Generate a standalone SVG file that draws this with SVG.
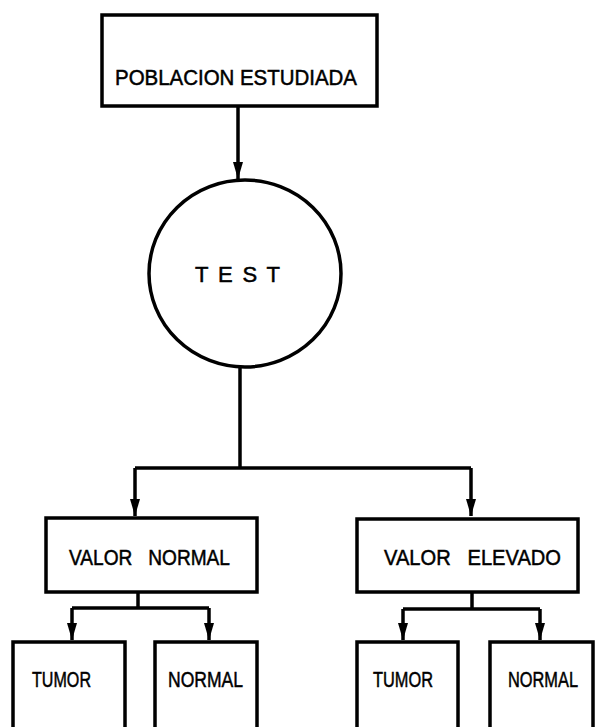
<svg xmlns="http://www.w3.org/2000/svg" width="596" height="727" viewBox="0 0 596 727">
<style>
.box{fill:#fff;stroke:#000;stroke-width:3.5}
.lbl{font-family:"Liberation Sans",Arial,sans-serif;font-size:22px;fill:#000;stroke:#000;stroke-width:0.5;white-space:pre}
.con{fill:none;stroke:#000;stroke-width:3.5;stroke-linejoin:round}
</style>
<defs>
<marker id="ah" markerUnits="userSpaceOnUse" markerWidth="18" markerHeight="11" refX="17" refY="5.5" orient="auto" overflow="visible">
<path d="M0,0.5 L17,5.5 L0,10.5 Z" fill="#000"/>
</marker>
</defs>
<g id="connectors">
<path class="con" d="M238,106 V179" marker-end="url(#ah)"/>
<path class="con" d="M240,367 V468"/>
<path class="con" d="M135,468 H471"/>
<path class="con" d="M135,468 V516" marker-end="url(#ah)"/>
<path class="con" d="M471,468 V516" marker-end="url(#ah)"/>
<path class="con" d="M138,592 V608"/>
<path class="con" d="M72,608 H209"/>
<path class="con" d="M72,608 V640" marker-end="url(#ah)"/>
<path class="con" d="M209,608 V640" marker-end="url(#ah)"/>
<path class="con" d="M472,592 V609"/>
<path class="con" d="M403,609 H540"/>
<path class="con" d="M403,609 V640" marker-end="url(#ah)"/>
<path class="con" d="M540,609 V640" marker-end="url(#ah)"/>
</g>
<g id="poblacion">
<rect class="box" x="102" y="15" width="275" height="91"/>
<text class="lbl" x="115" y="85" textLength="242" lengthAdjust="spacingAndGlyphs">POBLACION ESTUDIADA</text>
</g>
<g id="test">
<ellipse class="box" cx="245" cy="273.5" rx="96" ry="93.5"/>
<text class="lbl" x="195" y="282" textLength="85" lengthAdjust="spacing">T E S T</text>
</g>
<g id="valor-normal">
<rect class="box" x="46" y="518" width="211" height="74"/>
<text class="lbl" x="69" y="565" textLength="161" lengthAdjust="spacingAndGlyphs" xml:space="preserve">VALOR   NORMAL</text>
</g>
<g id="valor-elevado">
<rect class="box" x="357" y="519" width="221" height="73"/>
<text class="lbl" x="384" y="565" textLength="177" lengthAdjust="spacingAndGlyphs" xml:space="preserve">VALOR   ELEVADO</text>
</g>
<g id="tumor-1">
<rect class="box" x="13" y="642" width="112" height="100"/>
<text class="lbl" x="32" y="687" textLength="59" lengthAdjust="spacingAndGlyphs">TUMOR</text>
</g>
<g id="normal-1">
<rect class="box" x="155" y="642" width="102" height="100"/>
<text class="lbl" x="168" y="687" textLength="75" lengthAdjust="spacingAndGlyphs">NORMAL</text>
</g>
<g id="tumor-2">
<rect class="box" x="357" y="642" width="101" height="100"/>
<text class="lbl" x="373" y="687" textLength="60" lengthAdjust="spacingAndGlyphs">TUMOR</text>
</g>
<g id="normal-2">
<rect class="box" x="490" y="642" width="103" height="100"/>
<text class="lbl" x="508" y="687" textLength="70" lengthAdjust="spacingAndGlyphs">NORMAL</text>
</g>
</svg>
